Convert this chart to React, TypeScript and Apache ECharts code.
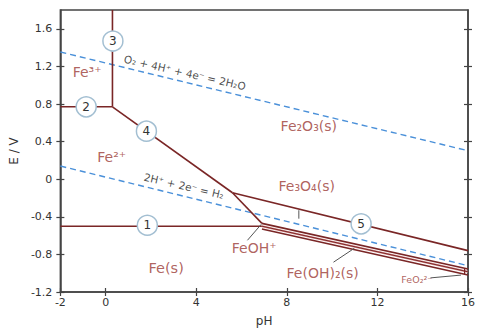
import React, { useEffect, useRef } from "react";
import * as echarts from "echarts";

// Axis ticks
const xTicks = [-2, 0, 4, 8, 12, 16];
const yTicks = [-1.2, -0.8, -0.4, 0, 0.4, 0.8, 1.2, 1.6];

// Boundary lines (pH, E)
const line1 = [[-2, -0.5], [6.9, -0.5]];
const line2 = [[-2, 0.77], [0.3, 0.77]];
const line3 = [[0.3, 0.77], [0.3, 1.8]];
const line4 = [[0.3, 0.77], [5.6, -0.144]];
const lineFe2Fe3O4 = [[5.6, -0.144], [6.9, -0.47]];
const line5 = [[5.6, -0.144], [16, -0.76]];
const lineFe3O4FeOH2 = [[6.9, -0.47], [16, -0.955]];
const lineFeOH2Mid = [[6.9, -0.5], [16, -0.985]];
const lineFeOH2Fe = [[6.9, -0.53], [16, -1.02]];
const lineFeO2 = [[15.85, -0.945], [15.85, -1.015]];

// Water stability lines
const o2Line = [[-2, 1.353], [16, 0.303]];
const h2Line = [[-2, 0.14], [16, -0.92]];

// Leader lines
const leaderFe3O4 = [[8.53, -0.33], [8.53, -0.42]];
const leaderFeOH = [[6.26, -0.65], [6.87, -0.48]];
const leaderFeOH2 = [[10.06, -0.883], [10.98, -0.735]];
const leaderFeO2 = [[14.34, -1.05], [15.69, -1.02]];

// Region labels: [pH, E, text, fontSize]
const regionLabels: [number, number, string, number][] = [
  [-0.82, 1.145, "Fe³⁺", 14],
  [0.27, 0.237, "Fe²⁺", 14],
  [8.97, 0.564, "Fe₂O₃(s)", 14],
  [8.88, -0.07, "Fe₃O₄(s)", 14],
  [6.56, -0.735, "FeOH⁺", 14],
  [9.58, -1.0, "Fe(OH)₂(s)", 14],
  [13.74, -1.07, "FeO₂²⁻", 9.5],
  [2.67, -0.946, "Fe(s)", 14.5],
];

// Equation labels: [pH, E, text]
const equationLabels: [number, number, string][] = [
  [3.5, 1.135, "O₂ + 4H⁺ + 4e⁻ = 2H₂O"],
  [3.46, -0.07, "2H⁺ + 2e⁻ = H₂"],
];

// Numbered circles: [pH, E, number]
const circles: [number, number, string][] = [
  [1.84, -0.49, "1"],
  [-0.86, 0.77, "2"],
  [0.32, 1.47, "3"],
  [1.8, 0.511, "4"],
  [11.28, -0.475, "5"],
];

const BROWN = "#7a2626";
const LABEL = "#9b3a35";
const AXIS = "#444";
const FONT = "DejaVu Sans";

export default function App() {
  const ref = useRef<HTMLDivElement>(null);
  useEffect(() => {
    document.body.style.margin = "0";
    const chart = echarts.init(ref.current!, null, { renderer: "svg" });
    const ln = (data: number[][], color = BROWN, width = 1.6, extra: any = {}) => ({
      type: "line",
      data,
      symbol: "none",
      silent: true,
      xAxisIndex: 0,
      yAxisIndex: 0,
      lineStyle: { color, width, ...extra },
      z: 3,
    });
    const tickStyle = { color: AXIS, width: 1.2 };
    const baseX = { type: "value", min: -2, max: 16, position: "bottom", splitLine: { show: false } };
    const baseY = { type: "value", min: -1.2, max: 1.8, splitLine: { show: false } };
    const option: any = {
      animation: false,
      grid: {
        left: 59,
        right: 7,
        top: 10,
        bottom: 38,
        show: true,
        borderColor: AXIS,
        borderWidth: 1.5,
        backgroundColor: "#fff",
      },
      xAxis: [
        {
          ...baseX,
          axisLine: { show: true, onZero: false, lineStyle: { color: AXIS, width: 1.5 } },
          axisTick: { show: true, length: 4, customValues: xTicks, lineStyle: tickStyle },
          axisLabel: {
            customValues: xTicks,
            color: "#333",
            fontSize: 11,
            fontFamily: FONT,
            margin: 5,
          },
          name: "pH",
          nameLocation: "middle",
          nameGap: 23,
          nameTextStyle: { color: "#333", fontSize: 12, fontFamily: FONT },
        },
        {
          ...baseX,
          axisLine: { show: false, onZero: false },
          axisTick: { show: true, inside: true, length: 4, customValues: xTicks, lineStyle: tickStyle },
          axisLabel: { show: false },
        },
      ],
      yAxis: [
        {
          ...baseY,
          position: "left",
          axisLine: { show: true, onZero: false, lineStyle: { color: AXIS, width: 1.5 } },
          axisTick: { show: true, length: 4, customValues: yTicks, lineStyle: tickStyle },
          axisLabel: {
            customValues: yTicks,
            color: "#333",
            fontSize: 11,
            fontFamily: FONT,
            margin: 8,
            formatter: (v: number) => String(Math.round(v * 10) / 10),
          },
          name: "E / V",
          nameLocation: "middle",
          nameGap: 38,
          nameRotate: 90,
          nameTextStyle: { color: "#333", fontSize: 12, fontFamily: FONT },
        },
        {
          ...baseY,
          position: "left",
          axisLine: { show: false, onZero: false },
          axisTick: { show: true, inside: true, length: 4, customValues: yTicks, lineStyle: tickStyle },
          axisLabel: { show: false },
        },
        {
          ...baseY,
          position: "right",
          axisLine: { show: true, onZero: false, lineStyle: { color: AXIS, width: 1.5 } },
          axisTick: { show: true, length: 4, customValues: yTicks, lineStyle: tickStyle },
          axisLabel: { show: false },
        },
        {
          ...baseY,
          position: "right",
          axisLine: { show: false, onZero: false },
          axisTick: { show: true, inside: true, length: 4, customValues: yTicks, lineStyle: tickStyle },
          axisLabel: { show: false },
        },
      ],
      series: [
        ln(o2Line, "#4a90d9", 1.4, { type: [6, 4] }),
        ln(h2Line, "#4a90d9", 1.4, { type: [6, 4] }),
        ln(line1),
        ln(line2),
        ln(line3),
        ln(line4),
        ln(lineFe2Fe3O4),
        ln(line5),
        ln(lineFe3O4FeOH2),
        ln(lineFeOH2Mid, "#d99090", 2.2),
        ln(lineFeOH2Mid, BROWN, 1.0),
        ln(lineFeOH2Fe),
        ln(lineFeO2, BROWN, 1.2),
        ln(leaderFe3O4, "#555", 1),
        ln(leaderFeOH, "#555", 1),
        ln(leaderFeOH2, "#555", 1),
        ln(leaderFeO2, "#555", 1),
        {
          type: "scatter",
          silent: true,
          symbolSize: 0,
          z: 5,
          data: regionLabels.map(([x, y, t, fs]) => ({
            value: [x, y],
            label: {
              show: true,
              position: "inside",
              formatter: t,
              color: LABEL,
              fontSize: fs,
              fontFamily: FONT,
            },
          })),
        },
        {
          type: "scatter",
          silent: true,
          symbolSize: 0,
          z: 5,
          data: equationLabels.map(([x, y, t]) => ({
            value: [x, y],
            label: {
              show: true,
              position: "inside",
              formatter: t,
              color: "#222",
              fontSize: 10.5,
              fontFamily: FONT,
              rotate: -13,
            },
          })),
        },
        {
          type: "scatter",
          silent: true,
          symbol: "circle",
          symbolSize: 20,
          z: 6,
          itemStyle: { color: "#fff", borderColor: "#a3bfd2", borderWidth: 1.5, opacity: 1 },
          label: {
            show: true,
            position: "inside",
            color: "#333",
            fontSize: 12,
            fontFamily: FONT,
            formatter: (p: any) => p.data.name,
          },
          data: circles.map(([x, y, n]) => ({ value: [x, y], name: n })),
        },
      ],
    };
    chart.setOption(option);
    return () => chart.dispose();
  }, []);
  return <div ref={ref} style={{ width: 478, height: 332 }} />;
}
